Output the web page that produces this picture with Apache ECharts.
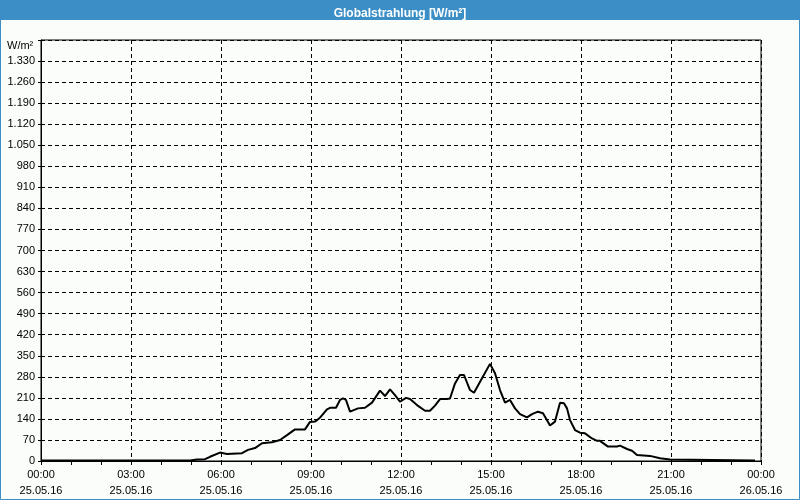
<!DOCTYPE html>
<html>
<head>
<meta charset="utf-8">
<script src="https://cdn.jsdelivr.net/npm/echarts@6/dist/echarts.min.js"></script>
<style>html,body{margin:0;padding:0;background:#fafdfa;}#c{width:800px;height:500px;}</style>
</head>
<body>
<div id="c"></div>
<script>
var chartTitle = 'Globalstrahlung [W/m²]';
var unitLabel = 'W/m²';
var times = ['00:00','04:58','05:12','05:28','05:38','05:58','06:12','06:42','06:54','07:08','07:22','07:42','07:58','08:12','08:28','08:48','08:58','09:08','09:18','09:32','09:38','09:50','09:58','10:04','10:10','10:18','10:34','10:48','11:02','11:18','11:28','11:38','11:48','11:58','12:10','12:18','12:32','12:48','12:58','13:08','13:18','13:32','13:38','13:48','13:58','14:06','14:18','14:26','14:42','14:58','15:08','15:18','15:28','15:38','15:48','15:58','16:12','16:22','16:34','16:44','16:58','17:08','17:18','17:26','17:32','17:38','17:48','17:58','18:08','18:22','18:32','18:38','18:54','19:12','19:18','19:32','19:42','19:52','20:18','20:38','20:58','23:48'];
var values = [2,2,5,6,14,28,23,26,37,43,59,62,70,86,105,105,130,131,144,172,177,177,203,208,203,164,175,177,194,234,216,238,219,197,210,206,186,167,167,184,206,206,208,258,286,286,236,227,275,323,292,236,194,203,175,156,145,156,164,159,118,131,194,192,175,136,103,94,92,75,67,67,48,48,51,40,34,20,17,9,5,2];
var xTickTimes = ['00:00','03:00','06:00','09:00','12:00','15:00','18:00','21:00','00:00'];
var xTickDates = ['25.05.16','25.05.16','25.05.16','25.05.16','25.05.16','25.05.16','25.05.16','25.05.16','26.05.16'];

function toMin(t){var p=t.split(':');return (+p[0])*60+(+p[1]);}
var seriesData = times.map(function(t,i){return [toMin(t), values[i]];});

var chart = echarts.init(document.getElementById('c'), null, {renderer:'canvas'});
var font = 'Liberation Sans';
chart.setOption({
  animation:false,
  backgroundColor:'#fafdfa',
  title:{text:chartTitle,left:'center',top:3,textStyle:{color:'#ffffff',fontSize:12,fontWeight:'bold',fontFamily:font}},
  graphic:[
    {type:'rect',shape:{x:0,y:0,width:800,height:20},style:{fill:'#3c8fc6'},z:-1},
    {type:'rect',shape:{x:0.5,y:0.5,width:799,height:499},style:{fill:null,stroke:'#3c8fc6',lineWidth:1},z:-1},
    {type:'text',x:7,y:46,style:{text:unitLabel,fill:'#000',font:'11px '+font,verticalAlign:'middle'}}
  ],
  grid:{left:41,right:39,top:40,bottom:39,show:true,borderColor:'#000',borderWidth:1,backgroundColor:'transparent'},
  xAxis:{
    type:'value',min:0,max:1440,interval:180,
    axisLine:{show:true,lineStyle:{color:'#000',width:1}},
    axisTick:{show:true,length:4,lineStyle:{color:'#000'}},
    minorTick:{show:true,splitNumber:3,length:4,lineStyle:{color:'#000'}},
    splitLine:{show:true,lineStyle:{color:'#000',type:[4,3],width:1}},
    axisLabel:{color:'#000',fontFamily:font,fontSize:11,margin:6,lineHeight:16,
      formatter:function(v){var i=Math.round(v/180);return xTickTimes[i]+'\n'+xTickDates[i];}}
  },
  yAxis:{
    type:'value',min:0,max:1400,interval:70,
    axisLine:{show:true,lineStyle:{color:'#000',width:1}},
    axisTick:{show:true,length:5,lineStyle:{color:'#000',type:[3,2]}},
    splitLine:{show:true,lineStyle:{color:'#000',type:[4,3],width:1}},
    axisLabel:{color:'#000',fontFamily:font,fontSize:11,margin:6,
      formatter:function(v){if(v>=1400)return '';var s=String(v);if(v>=1000)s=s.slice(0,s.length-3)+'.'+s.slice(-3);return s;}}
  },
  series:[{type:'line',data:seriesData,showSymbol:false,symbol:'none',lineStyle:{color:'#000',width:2},itemStyle:{color:'#000'}}]
});
</script>
</body>
</html>
